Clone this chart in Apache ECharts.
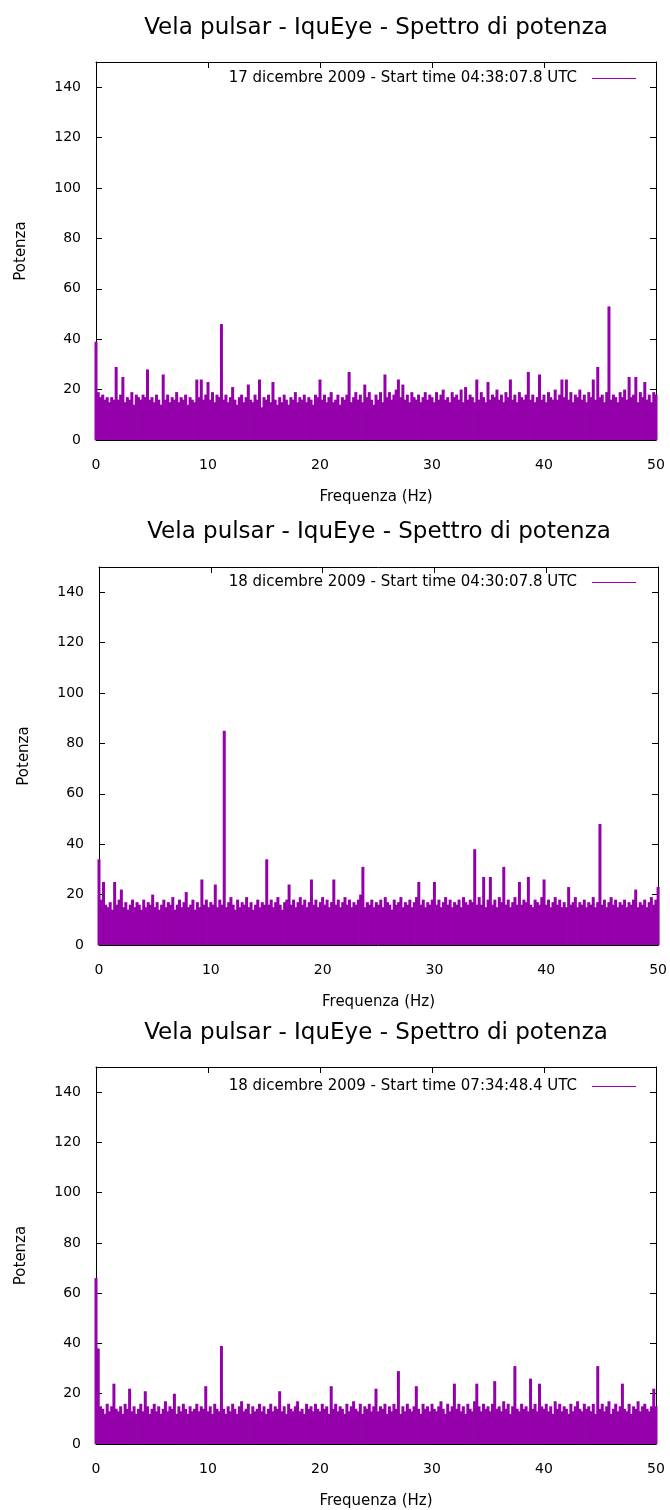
<!DOCTYPE html>
<html>
<head>
<meta charset="utf-8">
<script src="https://cdn.jsdelivr.net/npm/echarts@6/dist/echarts.min.js"></script>
<style>
html,body{margin:0;padding:0;background:#fff;}
#chart{width:670px;height:1510px;}
</style>
</head>
<body>
<div id="chart"></div>
<script>
// ---- data ----
const chartTitle = "Vela pulsar - IquEye - Spettro di potenza";
const xAxisName = "Frequenza (Hz)";
const yAxisName = "Potenza";
const seriesNames = [
  "17 dicembre 2009 - Start time 04:38:07.8 UTC",
  "18 dicembre 2009 - Start time 04:30:07.8 UTC",
  "18 dicembre 2009 - Start time 07:34:48.4 UTC"
];
const binWidthHz = 0.2; // frequency step of the sampled bins (0 .. 50 Hz)
const xTicks = [0, 10, 20, 30, 40, 50];
const yTicks = [0, 20, 40, 60, 80, 100, 120, 140];

// power per bin, 5 Hz per row
const power1 = [
  39,19,17,18,16,17,15,17,16,29,16,18,25,15,17,16,19,14,18,17,16,18,17,28,16,
  17,15,18,16,14,26,16,18,15,17,16,19,15,17,16,18,14,17,16,15,24,17,24,16,18,
  23,16,19,15,18,17,46,16,18,15,17,21,16,14,17,18,15,17,22,16,15,18,16,24,13,
  17,16,18,15,23,16,14,17,15,18,16,14,17,16,19,15,17,16,18,15,17,16,14,18,17,
  24,16,18,15,17,19,15,16,18,14,17,16,18,27,15,17,19,16,18,15,22,17,19,16,14,
  18,16,19,15,26,17,19,16,18,20,24,17,22,16,18,15,19,17,16,18,15,17,19,16,18,
  17,15,19,16,18,20,16,17,15,19,17,18,16,20,15,21,16,18,17,15,24,16,19,17,15,
  23,16,18,17,20,16,18,15,19,17,24,16,18,15,19,17,16,18,27,16,18,15,17,26,16,
  18,15,19,17,16,20,16,18,24,17,24,16,19,15,18,17,20,16,18,15,19,17,24,16,29,
  17,18,15,19,53,16,18,17,15,19,17,20,16,25,17,18,25,15,19,17,23,16,18,15,19,
  18
];
const power2 = [
  34,18,25,16,15,17,14,25,16,18,22,15,17,14,16,18,15,17,16,14,18,15,17,16,20,
  15,17,14,16,18,15,17,16,19,14,16,18,15,17,21,15,16,18,14,17,15,26,16,18,15,
  17,16,24,15,18,16,85,15,17,19,16,14,18,15,17,16,19,15,17,14,16,18,15,17,16,
  34,16,18,15,17,19,16,14,17,18,24,16,18,15,17,19,16,18,15,17,26,16,18,15,17,
  19,16,18,15,17,26,16,18,15,17,19,16,18,15,17,16,18,20,31,15,17,16,18,15,17,
  16,18,15,19,17,16,14,18,16,17,19,15,17,16,18,15,17,19,25,16,18,15,17,16,18,
  25,16,18,15,17,19,16,18,15,17,16,18,15,19,17,16,18,17,38,16,19,16,27,15,18,
  27,16,18,15,19,17,31,16,18,15,17,19,16,25,16,18,17,27,16,15,18,17,16,19,26,
  16,18,15,17,19,16,18,15,17,15,23,16,17,19,15,17,16,18,15,17,16,19,15,17,48,
  16,18,15,17,19,16,18,15,17,16,18,15,17,16,18,22,15,17,16,18,15,17,19,16,18,
  23
];
const power3 = [
  66,38,15,14,12,16,13,15,24,14,13,15,12,16,14,22,13,15,12,14,16,13,21,15,12,
  14,16,13,15,12,14,17,13,15,14,20,12,15,13,16,14,12,15,13,14,16,13,15,14,23,
  13,15,12,16,14,13,39,14,12,15,13,16,14,12,15,17,13,14,16,12,15,13,14,16,13,
  15,12,14,16,13,15,14,21,13,15,12,16,14,13,15,17,13,14,12,16,14,15,13,16,14,
  13,16,14,15,12,23,14,16,13,15,14,12,16,13,15,17,14,13,16,12,15,14,16,13,15,
  22,13,15,14,16,12,15,13,16,14,29,12,15,13,16,14,13,15,23,14,12,16,14,15,13,
  16,14,13,15,17,14,12,16,13,15,24,14,16,13,15,12,16,14,13,17,24,15,13,16,14,
  15,13,16,25,14,15,13,17,14,16,12,15,31,14,13,16,14,15,13,26,14,16,13,24,15,
  14,16,13,15,12,17,14,16,13,15,14,12,16,13,15,17,14,13,16,14,15,13,16,12,31,
  14,16,13,15,17,12,14,16,13,15,24,14,13,16,12,15,14,17,13,15,16,14,13,15,22,
  15
];
const powers = [power1, power2, power3];

// ---- layout ----
const panels = [
  {left: 96, right: 14, top: 62, height: 378, titleTop: 17, legendTop: 71},
  {left: 99, right: 11, top: 567, height: 378, titleTop: 521, legendTop: 575},
  {left: 96, right: 14, top: 1067, height: 377, titleTop: 1022, legendTop: 1079}
];
const purple = '#9400AA';
const font = "'DejaVu Sans', 'Liberation Sans', Arial, sans-serif";

const chart = echarts.init(document.getElementById('chart'), null, {renderer: 'canvas'});

const title = [], grid = [], xAxis = [], yAxis = [], series = [], legend = [];
panels.forEach((p, g) => {
  const cx = p.left + (670 - p.left - p.right) / 2;
  title.push({
    text: chartTitle, left: cx, top: p.titleTop, textAlign: 'center', padding: 0,
    textStyle: {fontFamily: font, fontSize: 23, fontWeight: 'normal', color: '#000'}
  });
  grid.push({left: p.left, right: p.right, top: p.top, height: p.height});
  const tickStyle = {show: true, inside: true, length: 6, lineStyle: {color: '#000', width: 1}};
  const lineStyle = {show: true, onZero: false, lineStyle: {color: '#000', width: 1}};
  xAxis.push({
    type: 'value', gridIndex: g, position: 'bottom', min: xTicks[0], max: xTicks[xTicks.length - 1], interval: 10,
    axisLine: lineStyle, axisTick: tickStyle, splitLine: {show: false},
    axisLabel: {fontFamily: font, fontSize: 14, color: '#000', margin: 18},
    name: xAxisName, nameLocation: 'middle', nameGap: 50,
    nameTextStyle: {fontFamily: font, fontSize: 15, color: '#000'}
  });
  xAxis.push({
    type: 'value', gridIndex: g, position: 'top', min: xTicks[0], max: xTicks[xTicks.length - 1], interval: 10,
    axisLine: lineStyle, axisTick: tickStyle, splitLine: {show: false}, axisLabel: {show: false}
  });
  yAxis.push({
    type: 'value', gridIndex: g, position: 'left', min: 0, max: 150, interval: 20,
    axisLine: lineStyle, axisTick: tickStyle, splitLine: {show: false},
    axisLabel: {fontFamily: font, fontSize: 14, color: '#000', margin: 15,
      formatter: v => (yTicks.indexOf(v) >= 0 ? String(v) : '')},
    name: yAxisName, nameLocation: 'middle', nameGap: 67, nameRotate: 90,
    nameTextStyle: {fontFamily: font, fontSize: 15, color: '#000'}
  });
  yAxis.push({
    type: 'value', gridIndex: g, position: 'right', min: 0, max: 150, interval: 20,
    axisLine: lineStyle, axisTick: tickStyle, splitLine: {show: false}, axisLabel: {show: false}
  });
  const data = powers[g].map((v, i) => [Math.round(i * binWidthHz * 10) / 10, v]);
  series.push({
    type: 'bar', name: seriesNames[g], xAxisIndex: 2 * g, yAxisIndex: 2 * g,
    data: data, barWidth: 3, clip: true,
    itemStyle: {color: purple, borderWidth: 0}, emphasis: {disabled: true}
  });
  legend.push({
    data: [{name: seriesNames[g], icon: 'rect', itemStyle: {color: purple, borderWidth: 0}}],
    right: 34, top: p.legendTop, align: 'right', orient: 'horizontal', padding: 0,
    itemWidth: 44, itemHeight: 1, itemGap: 10,
    itemStyle: {color: purple, borderWidth: 0},
    textStyle: {fontFamily: font, fontSize: 15, color: '#000', padding: [0, 10, 0, 0]},
    selectedMode: false
  });
});

chart.setOption({
  animation: false,
  backgroundColor: '#fff',
  color: [purple],
  title, grid, xAxis, yAxis, series, legend
});
</script>
</body>
</html>
